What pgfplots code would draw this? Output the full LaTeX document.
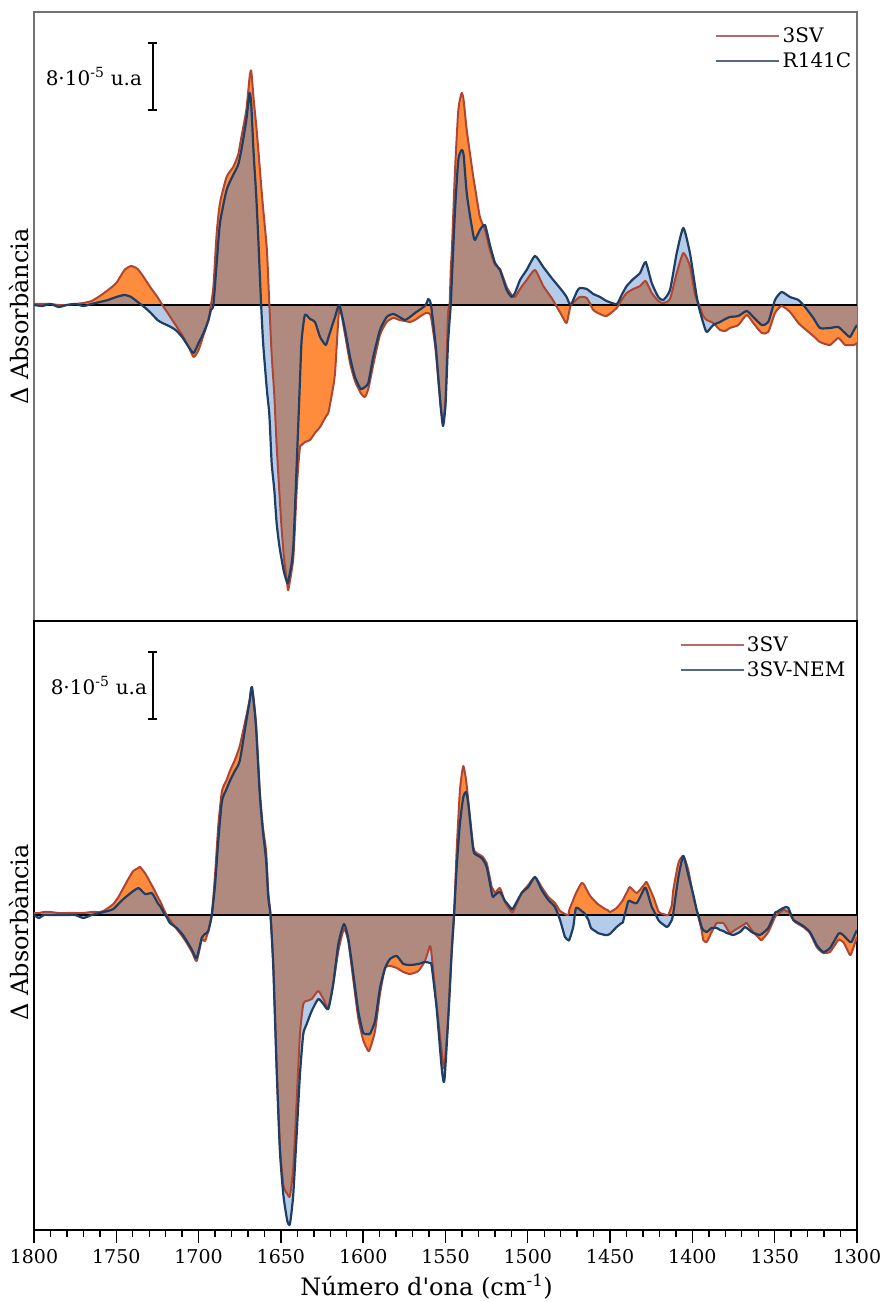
\documentclass[border=0pt]{standalone}
\usepackage{fontspec}
\setmainfont{DejaVu Serif}
\usepackage{pgfplots}
\usepackage{pgfplotstable}
\pgfplotsset{compat=1.18}
\usetikzlibrary{arrows.meta}
\definecolor{fillor}{RGB}{255,140,60}
\definecolor{fillbl}{RGB}{180,204,234}
\definecolor{fillbr}{RGB}{176,138,126}
\definecolor{lineor}{RGB}{175,70,50}
\definecolor{linebl}{RGB}{30,62,102}
\definecolor{legor}{RGB}{185,105,105}
\definecolor{legbl}{RGB}{85,105,135}

% top panel: wn, a = 3SV, b = R141C
\pgfplotstableread{
wn a b
1800 1 0
1795 1 -1
1790 1 1
1785 0 -2
1780 0 0
1775 1 1
1770 2 -1
1765 4 1
1760 9 3
1755 15 5
1750 22 8
1745 35 10
1741 39 8
1737 36 3
1733 27 -2
1729 17 -8
1725 8 -15
1722 0 -18
1718 -10 -21
1714 -20 -25
1710 -30 -32
1706 -42 -42
1703 -52 -48
1700 -45 -38
1697 -30 -28
1694 -15 -15
1692.5 0 -5
1691 18 0
1689 72 42
1687 102 82
1683 128 115
1679 138 130
1676 150 140
1674 168 155
1671 195 185
1669 228 212
1668 234 200
1666.5 205 150
1665 180 110
1663.7 155 65
1662 120 0
1660.7 95 -40
1658.5 55 -85
1657 0 -110
1655.6 -50 -158
1654 -90 -185
1652.6 -140 -218
1651 -185 -240
1649.5 -225 -255
1648 -255 -268
1646.1 -280 -278
1645.5 -285 -276
1643.4 -265 -258
1642.4 -252 -240
1641.4 -220 -202
1640.4 -185 -160
1639.4 -160 -118
1638.4 -142 -75
1637.4 -140 -35
1635.4 -137 -10
1632.3 -135 -14
1629.3 -128 -17
1626.2 -122 -32
1622.8 -112 -40
1621.2 -108 -33
1619.1 -90 -22
1617.1 -68 -12
1614.5 -4 0
1611 -30 -25
1608 -58 -52
1605 -76 -72
1601.5 -88 -84
1599 -92 -82
1596.9 -84 -78
1593.9 -60 -52
1589.8 -30 -25
1585.7 -17 -12
1581.7 -13 -9
1578 -15 -12
1574.6 -16 -15
1571.6 -17 -12
1568.5 -15 -8
1565 -11 -4
1562 -8 0
1560.4 -8 6
1558.8 -12 0
1556 -45 -40
1553 -100 -100
1551.5 -115 -121
1550 -95 -100
1548.5 -10 -40
1547.5 0 -15
1546.8 35 0
1546 60 30
1544.2 135 95
1542.2 195 145
1540.2 212 155
1539 205 150
1537.1 175 112
1535 150 88
1533.1 128 70
1532.1 118 65
1529.1 88 75
1526 75 80
1523 55 60
1519.9 40 42
1516.9 36 35
1512.8 18 15
1509.8 10 8
1507.8 8 12
1504.7 16 25
1500.7 25 35
1495.6 35 49
1490.6 19 38
1485.5 7 27
1483 0 22
1479.5 -10 15
1476.4 -18 8
1474 -1 0
1470 6 14
1468.3 8 17
1464.2 7 16
1460.2 -5 11
1456.1 -9 8
1452.1 -11 4
1446 -3 1
1443 5 10
1439.9 12 19
1435.9 16 26
1431.8 19 32
1428.4 24 43
1424.7 12 22
1420.7 4 8
1417.7 2 5
1413.6 6 15
1409.5 32 52
1405.5 52 77
1401.5 39 52
1398.4 10 19
1396.4 2 0
1393.4 -11 -18
1391.3 -15 -27
1387.3 -18 -20
1383.2 -25 -17
1380 -26 -14
1377.2 -23 -12
1372.1 -20 -11
1367 -10 -6
1363 -18 -12
1357.9 -28 -20
1353.9 -27 -17
1349.8 -8 5
1345.8 -1 13
1340.7 -7 8
1335.6 -18 5
1331.6 -24 -2
1326.5 -31 -13
1322.5 -37 -23
1316.4 -40 -23
1311.4 -33 -22
1307.3 -40 -28
1304.3 -40 -32
1301.8 -40 -25
1300 -38 -20
}\toptable

% bottom panel: wn, a = 3SV, b = 3SV-NEM
\pgfplotstableread{
wn a b
1800 2 0
1797 2 -3
1794 3 0
1790 3 0
1785 2 0
1780 2 0
1775 2 0
1770 2 -3
1765 3 0
1760 3 2
1757.9 4 3
1755 7 4
1751.8 11 6
1748.7 18 11
1745.7 27 16
1742.7 36 20
1739.7 44 24
1736.6 47 27
1735.6 48 26
1732.6 42 21
1731.5 39 21
1728.5 30 22
1727.5 27 20
1724.5 17 11
1723.4 14 9
1720.4 3 0
1719.4 0 -2
1717.4 -5 -8
1713.3 -14 -13
1710 -21 -19
1707.2 -28 -26
1704 -37 -35
1701.2 -46 -43
1698.1 -25 -23
1696.1 -26 -19
1694.1 -16 -16
1692 0 0
1690 40 30
1688 90 75
1685.8 124 114
1683 135 126
1681 144 134
1678 155 144
1675 169 154
1671 199 194
1669 215 214
1667.6 228 228
1665.2 194 190
1662.8 124 120
1661 89 85
1659 64 55
1657.7 24 18
1656.3 0 0
1654.6 -50 -53
1652.6 -150 -153
1650.6 -230 -236
1648.5 -270 -280
1646.1 -279 -306
1644.5 -281 -309
1642.5 -253 -280
1640.4 -186 -219
1638.4 -119 -159
1636.4 -89 -119
1634.3 -86 -109
1631.3 -84 -96
1627.3 -76 -84
1624.2 -84 -89
1621.2 -93 -94
1618.2 -69 -69
1615.1 -36 -29
1611.7 -14 -9
1609.1 -26 -23
1606 -65 -59
1603 -103 -96
1600 -125 -118
1596.9 -136 -119
1595.9 -134 -119
1592.8 -116 -106
1589.8 -79 -73
1586.7 -53 -53
1583.7 -51 -44
1579.6 -53 -41
1575.6 -57 -49
1571.6 -59 -50
1566.5 -56 -49
1562.5 -46 -47
1559.4 -31 -48
1558.4 -40 -51
1555.4 -90 -93
1552.3 -136 -153
1550.7 -153 -166
1548.3 -100 -103
1546.2 -36 -36
1544.8 0 0
1543.2 65 48
1541.2 125 92
1539.2 149 118
1537.5 135 123
1536.2 115 112
1533.1 68 65
1531.1 62 60
1528 59 57
1525 52 48
1521.9 28 22
1521.1 26 18
1519.9 22 20
1516.9 27 23
1513.9 13 14
1512.8 10 12
1509.8 3 6
1508.8 4 7
1503.7 22 22
1499.7 30 28
1495.6 38 38
1491.6 28 25
1487.5 18 15
1483.5 12 8
1480.4 4 -5
1477.4 1 -22
1475.4 0 -25
1474.8 5 -25
1472.4 15 -12
1470.7 22 7
1467.3 32 4
1465.7 30 2
1463.2 22 -5
1461.6 18 -13
1458.2 12 -17
1457.6 11 -18
1453.1 6 -20
1451.5 5 -20
1450.1 3 -19
1446 7 -12
1443 13 -8
1442.2 15 -7
1439.1 25 13
1437.9 28 14
1433.8 22 12
1429 31 27
1427.8 33 25
1424.7 22 8
1423.7 18 5
1420.7 4 -5
1419.7 2 -7
1415.6 0 -12
1414.6 0 -11
1412.5 10 -5
1411.6 25 2
1408.5 52 38
1405.5 59 59
1402.5 45 40
1399.4 18 20
1397.4 5 5
1396.4 -2 0
1394.4 -15 -12
1393.4 -25 -15
1391.3 -27 -17
1388.3 -17 -13
1385.2 -8 -13
1383.2 -8 -15
1381.2 -8 -16
1379.2 -13 -18
1377.2 -18 -19
1375.1 -16 -20
1371.1 -12 -17
1368.1 -9 -12
1367 -8 -13
1364 -15 -17
1363 -17 -18
1359 -24 -20
1357.9 -25 -19
1353.9 -17 -13
1349.8 -2 2
1348.8 0 3
1344.8 5 7
1342.7 4 8
1341.7 3 7
1338.7 -5 -5
1337.7 -7 -6
1333.6 -11 -10
1332.6 -12 -11
1328.6 -18 -17
1324.5 -32 -30
1320.5 -38 -37
1316.4 -37 -33
1311.4 -25 -19
1310.4 -25 -18
1308.4 -27 -20
1307.3 -30 -22
1304.3 -40 -27
1303.3 -38 -27
1300.6 -25 -17
1300 -22 -15
}\bottable

\pgfplotsset{
  panel/.style={
    width=823pt, height=609pt, scale only axis,
    xmin=1300, xmax=1800, x dir=reverse,
    ytick=\empty,
    ylabel={Δ Absorbància},
    ylabel style={font=\fontsize{24}{24}\selectfont, rotate=0, anchor=south},
    legend cell align=left,
    legend image code/.code={\draw[##1] (0pt,0pt) -- (63pt,0pt);},
    legend style={draw=none, fill=none, anchor=north west, inner sep=0pt,
      font=\fontsize{20}{22}\selectfont, row sep=5pt},
  },
  curve/.style={forget plot, smooth, tension=0.35, line join=round},
}

\begin{document}
\begin{tikzpicture}
\useasboundingbox (-34pt,-72pt) rectangle (855pt,1230pt);

% ---------------- top panel ----------------
\begin{axis}[panel, at={(0pt,609pt)}, anchor=south west,
  ymin=-316, ymax=293, xtick=\empty,
  axis line style={draw=black!55, line width=1.2pt},
  ylabel style={at={(axis description cs:-0.002,0.5)}},
  legend style={at={(axis description cs:0.8275,0.978)}}]
\addlegendimage{legor, line width=2.5pt}
\addlegendentry{3SV}
\addlegendimage{legbl, line width=2.5pt}
\addlegendentry{R141C}
\addplot[curve, fill=fillor, draw=none] table[x=wn, y=a] {\toptable} \closedcycle;
\addplot[curve, fill=fillbl, draw=none] table[x=wn, y=b] {\toptable} \closedcycle;
\addplot[curve, fill=fillbr, draw=none] table[x=wn, y expr={(\thisrow{a}>0)*(\thisrow{b}>0)*min(\thisrow{a},\thisrow{b})+(\thisrow{a}<0)*(\thisrow{b}<0)*max(\thisrow{a},\thisrow{b})}] {\toptable} \closedcycle;
\addplot[forget plot, black, line width=1.8pt] coordinates {(1800,0) (1300,0)};
\addplot[curve, lineor, line width=2pt] table[x=wn, y=a] {\toptable};
\addplot[curve, linebl, line width=2.2pt] table[x=wn, y=b] {\toptable};
\addplot[forget plot, black, line width=2pt, arrows={Bar[width=9pt]-Bar[width=9pt]}] coordinates {(1728,194) (1728,263)};
\node[anchor=east, font=\fontsize{20}{20}\selectfont, xshift=-7pt] at (axis cs:1728,228.5) {8·10\textsuperscript{-5} u.a};
\end{axis}

% ---------------- bottom panel ----------------
\begin{axis}[panel, at={(0pt,0pt)}, anchor=south west,
  ymin=-315, ymax=294,
  axis line style={draw=black, line width=2pt},
  xtick={1300,1350,...,1800}, minor x tick num=4,
  xtick pos=bottom, tick align=outside,
  major tick length=13pt, minor tick length=7pt,
  every tick/.style={black, line width=1.4pt},
  /pgf/number format/1000 sep={},
  /pgf/number format/assume math mode=true,
  xticklabel style={font=\fontsize{19}{19}\selectfont, anchor=base, yshift=-20pt},
  xlabel={Número d\textquotesingle ona (cm\textsuperscript{-1})},
  xlabel style={font=\fontsize{24}{24}\selectfont, at={(axis description cs:0.477,-0.108)}, anchor=base},
  ylabel style={at={(axis description cs:-0.002,0.489)}},
  legend style={at={(axis description cs:0.784,0.978)}}]
\addlegendimage{legor, line width=2.5pt}
\addlegendentry{3SV}
\addlegendimage{legbl, line width=2.5pt}
\addlegendentry{3SV-NEM}
\addplot[curve, fill=fillor, draw=none] table[x=wn, y=a] {\bottable} \closedcycle;
\addplot[curve, fill=fillbl, draw=none] table[x=wn, y=b] {\bottable} \closedcycle;
\addplot[curve, fill=fillbr, draw=none] table[x=wn, y expr={(\thisrow{a}>0)*(\thisrow{b}>0)*min(\thisrow{a},\thisrow{b})+(\thisrow{a}<0)*(\thisrow{b}<0)*max(\thisrow{a},\thisrow{b})}] {\bottable} \closedcycle;
\addplot[forget plot, black, line width=1.8pt] coordinates {(1800,0) (1300,0)};
\addplot[curve, lineor, line width=2pt] table[x=wn, y=a] {\bottable};
\addplot[curve, linebl, line width=2.2pt] table[x=wn, y=b] {\bottable};
\addplot[forget plot, black, line width=2pt, arrows={Bar[width=9pt]-Bar[width=9pt]}] coordinates {(1728,195) (1728,264)};
\node[anchor=east, font=\fontsize{20}{20}\selectfont, xshift=-2pt] at (axis cs:1728,229.5) {8·10\textsuperscript{-5} u.a};
\end{axis}
\end{tikzpicture}
\end{document}
